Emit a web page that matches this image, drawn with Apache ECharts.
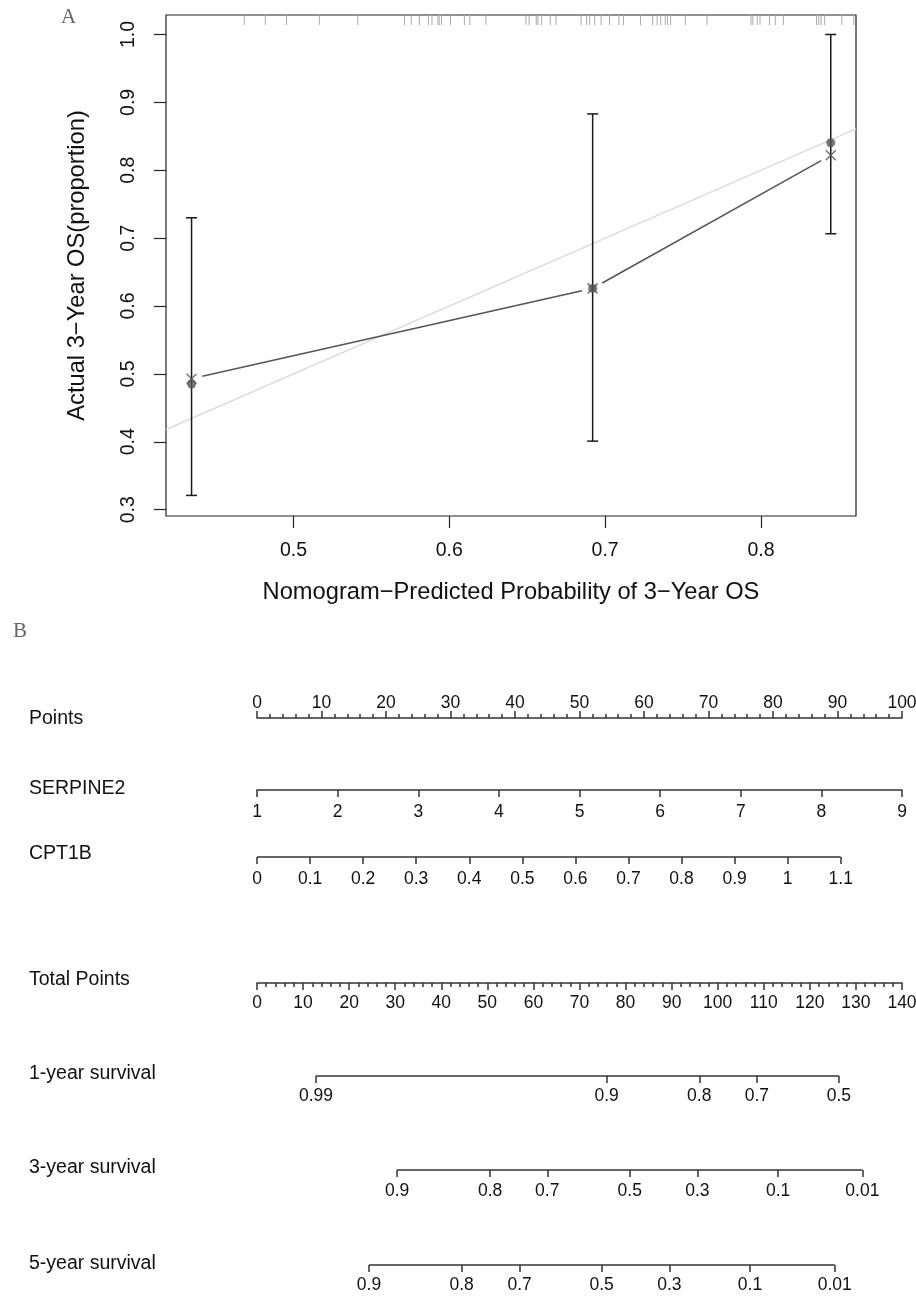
<!DOCTYPE html>
<html>
<head>
<meta charset="utf-8">
<script src="https://cdn.jsdelivr.net/npm/echarts@6/dist/echarts.min.js"></script>
<style>
html,body{margin:0;padding:0;background:#fff;}
#chart{width:916px;height:1297px;}
</style>
</head>
<body>
<div id="chart"></div>
<script>
// ---------- Panel A: calibration data ----------
const calX = [0.4346, 0.6920, 0.8448];          // nomogram-predicted (group means)
const calObserved = [0.4852, 0.6260, 0.8406];   // observed (filled dots)
const calCorrected = [0.4930, 0.6260, 0.8220];  // bias-corrected (x markers)
const calLower = [0.321, 0.401, 0.7065];
const calUpper = [0.730, 0.883, 1.000];
const rugX = [0.4684,0.4819,0.4955,0.5166,0.5413,0.5713,0.5756,0.5808,0.5866,0.5889,0.5927,0.5935,0.5950,
  0.6008,0.6097,0.6132,0.6235,0.6492,0.6512,0.6558,0.6569,0.6593,0.6648,0.6685,0.6846,0.6881,0.6901,0.6933,
  0.6974,0.7028,0.7089,0.7118,0.7227,0.7305,0.7334,0.7357,0.7386,0.7400,0.7420,0.7515,0.7654,0.7936,0.7948,
  0.7976,0.7994,0.8055,0.8092,0.8144,0.8357,0.8371,0.8386,0.8409,0.8519,0.8596];
const xTickValues = [0.5, 0.6, 0.7, 0.8];
const yTickValues = [0.3, 0.4, 0.5, 0.6, 0.7, 0.8, 0.9, 1.0];
const xRange = [0.4182, 0.861];
const yRange = [0.2907, 1.0287];

// ---------- Panel B: nomogram data ----------
const rowNames = ['Points', 'SERPINE2', 'CPT1B', 'Total Points', '1-year survival', '3-year survival', '5-year survival'];
const pointsRange = [0, 100];
const serpine2Range = [1, 9];
const cpt1bTicks = [0, 0.1, 0.2, 0.3, 0.4, 0.5, 0.6, 0.7, 0.8, 0.9, 1, 1.1];
const cpt1bAt100Points = 1.2155;
const totalPointsRange = [0, 140];
const surv1Labels = ['0.99', '0.9', '0.8', '0.7', '0.5'];
const surv1Points = [12.8, 75.9, 96.0, 108.5, 126.3];
const surv3Labels = ['0.9', '0.8', '0.7', '0.5', '0.3', '0.1', '0.01'];
const surv3Points = [30.4, 50.6, 63.0, 80.9, 95.6, 113.1, 131.4];
const surv5Labels = ['0.9', '0.8', '0.7', '0.5', '0.3', '0.1', '0.01'];
const surv5Points = [24.3, 44.4, 57.0, 74.8, 89.5, 107.0, 125.4];

// ---------- build ----------
const FONT = 'Liberation Sans, Arial, Helvetica, sans-serif';
const TXT = '#111';
const LINE = '#333';

const chart = echarts.init(document.getElementById('chart'), null, {renderer: 'canvas'});

const grids = [];
const xAxes = [];
const yAxes = [];
const series = [];

// Panel A grid
grids.push({left: 166, top: 15, width: 690, height: 501, show: true, borderColor: '#222', borderWidth: 1.2,
  backgroundColor: 'transparent', containLabel: false, outerBoundsMode: 'none'});
xAxes.push({
  gridIndex: 0, type: 'value', min: xRange[0], max: xRange[1],
  axisLine: {show: false, onZero: false}, splitLine: {show: false},
  axisTick: {show: true, length: 12, customValues: xTickValues, lineStyle: {color: '#222', width: 1.2}},
  axisLabel: {show: true, customValues: xTickValues, margin: 25, fontSize: 19.5, color: TXT, fontFamily: FONT,
    formatter: v => v.toFixed(1)},
  name: 'Nomogram\u2212Predicted Probability of 3\u2212Year OS', nameLocation: 'middle', nameGap: 64,
  nameTextStyle: {fontSize: 23.7, color: TXT, fontFamily: FONT}
});
yAxes.push({
  gridIndex: 0, type: 'value', min: yRange[0], max: yRange[1],
  axisLine: {show: false, onZero: false}, splitLine: {show: false},
  axisTick: {show: true, length: 12, customValues: yTickValues, lineStyle: {color: '#222', width: 1.2}},
  axisLabel: {show: true, customValues: yTickValues, rotate: 90, margin: 27, fontSize: 19.5, color: TXT, fontFamily: FONT,
    formatter: v => v.toFixed(1)},
  name: 'Actual 3\u2212Year OS(proportion)', nameLocation: 'middle', nameGap: 77, nameRotate: 90,
  nameTextStyle: {fontSize: 23.7, color: TXT, fontFamily: FONT}
});

// ideal diagonal
series.push({type: 'line', xAxisIndex: 0, yAxisIndex: 0, data: [[xRange[0], xRange[0]], [xRange[1], xRange[1]]],
  symbol: 'none', lineStyle: {color: '#dcdcdc', width: 1.5}, silent: true, z: 1});

// rug
series.push({type: 'custom', xAxisIndex: 0, yAxisIndex: 0, data: rugX.map(v => [v]), silent: true, z: 2,
  encode: {x: 0},
  renderItem: (params, api) => {
    const p = api.coord([api.value(0), yRange[1]]);
    return {type: 'line', shape: {x1: p[0], y1: p[1], x2: p[0], y2: p[1] + 10}, style: {stroke: '#aaa', lineWidth: 1}};
  }});

// connecting line with gaps (bias-corrected)
const segs = [];
for (let i = 0; i < calX.length - 1; i++) segs.push([calX[i], calCorrected[i], calX[i + 1], calCorrected[i + 1]]);
series.push({type: 'custom', xAxisIndex: 0, yAxisIndex: 0, data: segs, silent: true, z: 3,
  renderItem: (params, api) => {
    const a = api.coord([api.value(0), api.value(1)]);
    const b = api.coord([api.value(2), api.value(3)]);
    const dx = b[0] - a[0], dy = b[1] - a[1], L = Math.sqrt(dx * dx + dy * dy);
    const g = 11, ux = dx / L, uy = dy / L;
    return {type: 'line', shape: {x1: a[0] + ux * g, y1: a[1] + uy * g, x2: b[0] - ux * g, y2: b[1] - uy * g},
      style: {stroke: '#555', lineWidth: 1.5}};
  }});

// error bars
series.push({type: 'custom', xAxisIndex: 0, yAxisIndex: 0, silent: true, z: 4,
  data: calX.map((x, i) => [x, calLower[i], calUpper[i]]),
  renderItem: (params, api) => {
    const lo = api.coord([api.value(0), api.value(1)]);
    const hi = api.coord([api.value(0), api.value(2)]);
    const w = 5.5, st = {stroke: '#1a1a1a', lineWidth: 1.5};
    return {type: 'group', children: [
      {type: 'line', shape: {x1: lo[0], y1: lo[1], x2: hi[0], y2: hi[1]}, style: st},
      {type: 'line', shape: {x1: lo[0] - w, y1: lo[1], x2: lo[0] + w, y2: lo[1]}, style: st},
      {type: 'line', shape: {x1: hi[0] - w, y1: hi[1], x2: hi[0] + w, y2: hi[1]}, style: st}
    ]};
  }});

// observed dots
series.push({type: 'scatter', xAxisIndex: 0, yAxisIndex: 0, data: calX.map((x, i) => [x, calObserved[i]]),
  symbol: 'circle', symbolSize: 9, itemStyle: {color: '#555'}, silent: true, z: 5});
// corrected x markers
series.push({type: 'scatter', xAxisIndex: 0, yAxisIndex: 0, data: calX.map((x, i) => [x, calCorrected[i]]),
  symbol: 'path://M0,0L10,10M10,0L0,10', symbolSize: 10,
  itemStyle: {color: 'rgba(0,0,0,0)', borderColor: '#555', borderWidth: 1.5}, silent: true, z: 6});

// ---------- Panel B ----------
const NL = 257, NW = 645;
const rowLineY = [718, 790, 857, 983, 1076, 1170, 1265];
const tickLabelStyle = {fontSize: 17.5, color: TXT, fontFamily: FONT};
const axLine = {color: LINE, width: 1.5};

function addRow(lineY, xAxisCfg, top) {
  const gi = grids.length;
  grids.push({left: NL, width: NW, top: top ? lineY : lineY - 10, height: 10, containLabel: false, outerBoundsMode: 'none'});
  const cfg = Object.assign({gridIndex: gi, type: 'value', splitLine: {show: false}}, xAxisCfg);
  cfg.axisLine = Object.assign({onZero: false}, cfg.axisLine || {});
  xAxes.push(cfg);
  yAxes.push({gridIndex: gi, type: 'value', min: 0, max: 1, show: false});
  return gi;
}

// Points
addRow(rowLineY[0], {min: pointsRange[0], max: pointsRange[1], interval: 10, position: 'top',
  axisLine: {show: true, lineStyle: axLine},
  axisTick: {show: true, length: 7, lineStyle: axLine},
  minorTick: {show: true, splitNumber: 5, length: 4, lineStyle: axLine},
  axisLabel: Object.assign({margin: 6, showMinLabel: true, showMaxLabel: true}, tickLabelStyle)}, true);

// SERPINE2
addRow(rowLineY[1], {min: serpine2Range[0], max: serpine2Range[1], interval: 1, position: 'bottom',
  axisLine: {show: true, lineStyle: axLine},
  axisTick: {show: true, length: 7, lineStyle: axLine},
  axisLabel: Object.assign({margin: 13}, tickLabelStyle)});

// CPT1B
{
  const gi = addRow(rowLineY[2], {min: 0, max: cpt1bAt100Points, position: 'bottom',
    axisLine: {show: false},
    axisTick: {show: true, length: 7, customValues: cpt1bTicks, lineStyle: axLine},
    axisLabel: Object.assign({margin: 13, customValues: cpt1bTicks, formatter: v => String(+v.toFixed(2))}, tickLabelStyle)});
  series.push({type: 'line', xAxisIndex: gi, yAxisIndex: gi, data: [[cpt1bTicks[0], 0], [cpt1bTicks[cpt1bTicks.length - 1], 0]],
    symbol: 'none', clip: false, lineStyle: axLine, silent: true});
}

// Total Points
addRow(rowLineY[3], {min: totalPointsRange[0], max: totalPointsRange[1], interval: 10, position: 'bottom',
  axisLine: {show: true, lineStyle: axLine},
  axisTick: {show: true, length: 7, lineStyle: axLine},
  minorTick: {show: true, splitNumber: 5, length: 4, lineStyle: axLine},
  axisLabel: Object.assign({margin: 11, showMinLabel: true, showMaxLabel: true}, tickLabelStyle)});

// survival rows
function survRow(lineY, pts, labels, margin) {
  const gi = addRow(lineY, {min: totalPointsRange[0], max: totalPointsRange[1], position: 'bottom',
    axisLine: {show: false},
    axisTick: {show: true, length: 7, customValues: pts, lineStyle: axLine},
    axisLabel: Object.assign({margin: margin, customValues: pts, formatter: v => {
      let k = 0, best = Infinity;
      pts.forEach((p, i) => { const d = Math.abs(p - v); if (d < best) { best = d; k = i; } });
      return labels[k];
    }}, tickLabelStyle)});
  series.push({type: 'line', xAxisIndex: gi, yAxisIndex: gi, data: [[pts[0], 0], [pts[pts.length - 1], 0]],
    symbol: 'none', clip: false, lineStyle: axLine, silent: true});
}
survRow(rowLineY[4], surv1Points, surv1Labels, 11);
survRow(rowLineY[5], surv3Points, surv3Labels, 12);
survRow(rowLineY[6], surv5Points, surv5Labels, 11);

// row labels + panel letters
const rowLabelCenter = [720, 790, 855, 981, 1075, 1169, 1265];
const titles = rowNames.map((n, i) => ({text: n, left: 29, top: rowLabelCenter[i] - 11, padding: 0,
  textStyle: {fontSize: 19.5, fontWeight: 'normal', color: TXT, fontFamily: FONT}}));
titles.push({text: 'A', left: 61, top: 7, padding: 0, textStyle: {fontSize: 21, fontWeight: 'normal', color: '#666', fontFamily: 'Liberation Serif, Times New Roman, serif'}});
titles.push({text: 'B', left: 13, top: 621, padding: 0, textStyle: {fontSize: 21, fontWeight: 'normal', color: '#666', fontFamily: 'Liberation Serif, Times New Roman, serif'}});

chart.setOption({
  animation: false,
  backgroundColor: '#fff',
  title: titles,
  grid: grids,
  xAxis: xAxes,
  yAxis: yAxes,
  series: series
});
</script>
</body>
</html>
